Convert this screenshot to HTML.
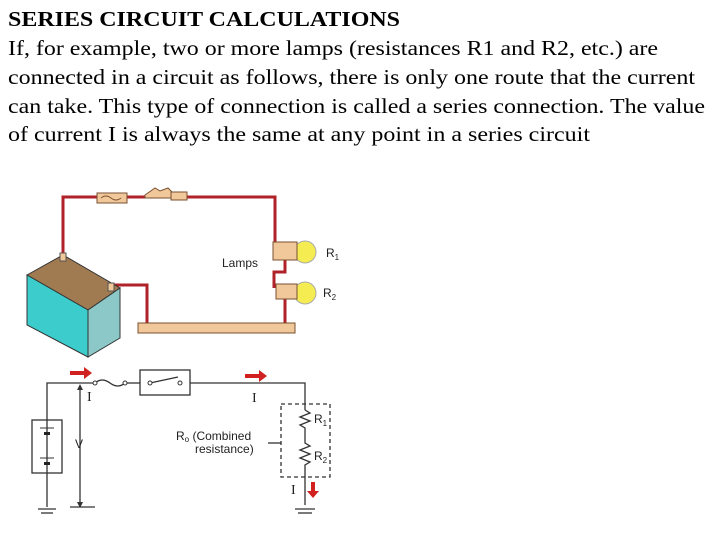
<!DOCTYPE html>
<html><head><style>body{margin:0;background:#fff}svg{display:block}</style></head>
<body>
<svg width="720" height="540" xmlns="http://www.w3.org/2000/svg">
<g font-family="Liberation Serif, serif" font-size="21" fill="#000">
<text x="8" y="26" font-weight="bold" textLength="392" lengthAdjust="spacingAndGlyphs">SERIES CIRCUIT CALCULATIONS</text>
<text x="8" y="55" textLength="650" lengthAdjust="spacingAndGlyphs">If, for example, two or more lamps (resistances R1 and R2, etc.) are</text>
<text x="8" y="84" textLength="687" lengthAdjust="spacingAndGlyphs">connected in a circuit as follows, there is only one route that the current</text>
<text x="8" y="113" textLength="697" lengthAdjust="spacingAndGlyphs">can take. This type of connection is called a series connection. The value</text>
<text x="8" y="141" textLength="582" lengthAdjust="spacingAndGlyphs">of current I is always the same at any point in a series circuit</text>
</g>
<!-- pictorial circuit -->
<g fill="none" stroke="#b0222a" stroke-width="3">
<polyline points="63,258 63,197 275,197 275,248"/>
<polyline points="285,258 285,272 274,272 274,288"/>
<polyline points="111,285 147,285 147,323"/>
<polyline points="285,296 285,323"/>
</g>
<rect x="97" y="193" width="30" height="10" fill="#f0c89a" stroke="#7a5030"/>
<path d="M101,198 q5,-4 10,0 t10,0" fill="none" stroke="#7a5030"/>
<path d="M145,195 l10,-7 l5,3 l8,-3 l4,4 l0,6 l-27,0z" fill="#f0c89a" stroke="#7a5030"/>
<rect x="171" y="192" width="16" height="8" fill="#f0c89a" stroke="#7a5030"/>
<rect x="138" y="323" width="157" height="10" fill="#f0c89a" stroke="#7a5030"/>
<polygon points="27,275 63,255 120,288 88,310" fill="#a07a50" stroke="#333"/>
<polygon points="27,275 88,310 88,357 27,325" fill="#3ccccc" stroke="#333"/>
<polygon points="88,310 120,288 120,338 88,357" fill="#8cc8c8" stroke="#333"/>
<rect x="60" y="253" width="6" height="8" fill="#f0c89a" stroke="#555"/>
<rect x="108" y="283" width="6" height="8" fill="#f0c89a" stroke="#555"/>
<circle cx="305" cy="252" r="11" fill="#f4ec50" stroke="#aaa"/>
<circle cx="305" cy="293" r="11" fill="#f4ec50" stroke="#aaa"/>
<rect x="273" y="242" width="24" height="18" fill="#f0c89a" stroke="#7a5030"/>
<rect x="276" y="284" width="21" height="15" fill="#f0c89a" stroke="#7a5030"/>
<g font-family="Liberation Sans, sans-serif" font-size="12" fill="#222">
<text x="222" y="267">Lamps</text>
<text x="326" y="257">R<tspan font-size="8" dy="3">1</tspan></text>
<text x="323" y="297">R<tspan font-size="8" dy="3">2</tspan></text>
</g>
<!-- schematic -->
<g fill="none" stroke="#333" stroke-width="1.3">
<polyline points="47,507 47,383 95,383"/>
<path d="M95,383 q7,-6 15,0 t15,0"/>
<line x1="125" y1="383" x2="140" y2="383"/>
<rect x="140" y="370" width="50" height="25"/>
<line x1="150" y1="383" x2="178" y2="377"/>
<polyline points="190,383 305,383 305,410"/>
<path d="M305,410 l5,3 l-10,4 l10,4 l-10,4 l5,3 l0,15 l5,3 l-10,4 l10,4 l-10,4 l10,4 l-5,3 l0,40"/>
<rect x="32" y="420" width="30" height="53"/>
<line x1="80" y1="388" x2="80" y2="505"/>
<line x1="70" y1="507" x2="95" y2="507"/>
<line x1="38" y1="509" x2="56" y2="509"/><line x1="41" y1="513" x2="53" y2="513"/>
<line x1="295" y1="509" x2="315" y2="509"/><line x1="298" y1="513" x2="312" y2="513"/>
<rect x="281" y="404" width="49" height="73" stroke-dasharray="4,3"/>
<line x1="268" y1="443" x2="281" y2="443"/>
</g>
<circle cx="95" cy="383" r="2" fill="#fff" stroke="#333"/><circle cx="125" cy="383" r="2" fill="#fff" stroke="#333"/>
<circle cx="150" cy="383" r="2" fill="#fff" stroke="#333"/><circle cx="180" cy="383" r="2" fill="#fff" stroke="#333"/>
<rect x="44" y="432" width="6" height="3" fill="#222"/><rect x="44" y="462" width="6" height="3" fill="#222"/>
<line x1="40" y1="428" x2="54" y2="428" stroke="#333"/><line x1="40" y1="458" x2="54" y2="458" stroke="#333"/>
<path d="M80,384 l-3,6 h6z M80,508 l-3,-6 h6z" fill="#333"/>
<path d="M70,371 h14 v-4 l8,6 l-8,6 v-4 h-14z" fill="#d02020"/>
<path d="M245,374 h14 v-4 l8,6 l-8,6 v-4 h-14z" fill="#d02020"/>
<path d="M311,482 h4 v9 h4 l-6,7 l-6,-7 h4z" fill="#d02020"/>
<g font-family="Liberation Serif, serif" font-size="14" fill="#222">
<text x="87" y="401">I</text><text x="252" y="402">I</text><text x="291" y="494">I</text>
</g>
<g font-family="Liberation Sans, sans-serif" font-size="12" fill="#222">
<text x="75" y="448">V</text>
<text x="176" y="440">R<tspan font-size="8" dy="2">o</tspan><tspan dy="-2"> (Combined</tspan></text>
<text x="195" y="453">resistance)</text>
<text x="314" y="423">R<tspan font-size="8" dy="3">1</tspan></text>
<text x="314" y="460">R<tspan font-size="8" dy="3">2</tspan></text>
</g>
</svg>
</body></html>
